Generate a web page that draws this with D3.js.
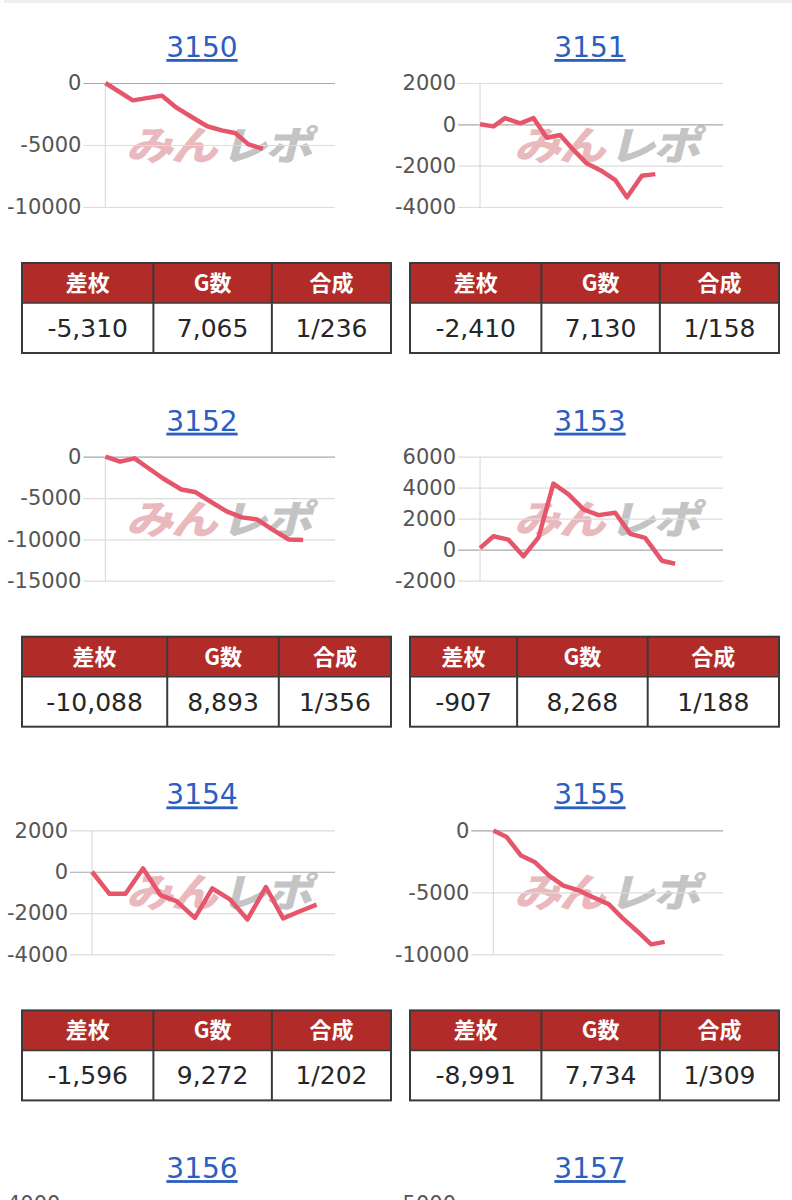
<!DOCTYPE html>
<html><head><meta charset="utf-8">
<script src="https://cdn.jsdelivr.net/npm/d3@7"></script>
<style>
html,body{margin:0;padding:0;background:#fff;}
svg{display:block;}
</style></head>
<body>
<svg id="c" width="792" height="1200"></svg>
<script>
// ---- data ----
const machineIds = ["3150","3151","3152","3153","3154","3155","3156","3157"];

const games3150 = [0, 1230, 2540, 3190, 3870, 4570, 5220, 5820, 6420, 7065];
const diff3150  = [0, -1400, -1020, -1990, -2740, -3490, -3820, -4030, -4950, -5310];

const games3151 = [0, 570, 1060, 1700, 2270, 2830, 3400, 3970, 4530, 5100, 5740, 6230, 6860, 7430];
const diff3151  = [0, -100, 300, 50, 300, -650, -520, -1250, -1900, -2220, -2700, -3530, -2490, -2410];

const games3152 = [0, 660, 1310, 1840, 2590, 3410, 4020, 4690, 5440, 6120, 6800, 7550, 8230, 8870];
const diff3152  = [0, -600, -200, -1220, -2640, -3970, -4260, -5390, -6610, -7340, -7580, -8920, -10020, -10088];

const games3153 = [0, 570, 1200, 1840, 2480, 3110, 3750, 4390, 5020, 5730, 6370, 7000, 7710, 8270];
const diff3153  = [100, 870, 650, -430, 800, 4260, 3570, 2600, 2230, 2380, 1020, 760, -710, -907];

const games3154 = [0, 740, 1420, 2160, 2900, 3580, 4360, 5100, 5850, 6590, 7370, 8100, 8840, 9520];
const diff3154  = [0, -1070, -1070, 160, -1130, -1420, -2230, -810, -1340, -2310, -740, -2260, -1900, -1596];

const games3155 = [0, 600, 1240, 1870, 2500, 3140, 3790, 4420, 5170, 5770, 6440, 7080, 7680];
const diff3155  = [0, -540, -2030, -2570, -3650, -4460, -4810, -5350, -5950, -7030, -8110, -9190, -8991];

const ticks3150 = [0, -5000, -10000];
const ticks3151 = [2000, 0, -2000, -4000];
const ticks3152 = [0, -5000, -10000, -15000];
const ticks3153 = [6000, 4000, 2000, 0, -2000];
const ticks3154 = [2000, 0, -2000, -4000];
const ticks3155 = [0, -5000, -10000];
const ticks3156 = [4000, 2000, 0];
const ticks3157 = [5000, 0, -5000];

const tableHeaders = ["差枚", "G数", "合成"];
const tableDiff  = ["-5,310", "-2,410", "-10,088", "-907", "-1,596", "-8,991"];
const tableGames = ["7,065", "7,130", "8,893", "8,268", "9,272", "7,734"];
const tableRate  = ["1/236", "1/158", "1/356", "1/188", "1/202", "1/309"];

const seriesGames = [games3150, games3151, games3152, games3153, games3154, games3155, [], []];
const seriesDiff  = [diff3150, diff3151, diff3152, diff3153, diff3154, diff3155, [], []];
const seriesTicks = [ticks3150, ticks3151, ticks3152, ticks3153, ticks3154, ticks3155, ticks3156, ticks3157];

// ---- layout / style ----
const W = 792, H = 1200;
const svg = d3.select("#c");
const NUM_FONT = "'DejaVu Sans', sans-serif";
const CJK_FONT = "'Noto Sans CJK JP', sans-serif";
const ROW_STEP = 373.7;
const COL_BASE = [22, 410];
const LINE_COLOR = "#e5566b";
const HEADER_RED = "#b12c28";
const X_MAX = 10300;

// top shadow strip
svg.append("rect").attr("x", 4).attr("y", 0).attr("width", 788).attr("height", 3).attr("fill", "#efefef");

function measure(text, font, size, weight) {
  const t = svg.append("text").attr("font-family", font).attr("font-size", size)
    .attr("font-weight", weight || "normal").text(text);
  const w = t.node().getComputedTextLength();
  t.remove();
  return w;
}

machineIds.forEach((id, i) => {
  const col = i % 2, row = Math.floor(i / 2);
  const bx = COL_BASE[col], by = row * ROW_STEP;
  const g = svg.append("g");

  // title (link style)
  g.append("text").attr("x", bx + 180).attr("y", by + 57)
    .attr("text-anchor", "middle").attr("font-family", NUM_FONT).attr("font-size", 28)
    .attr("fill", "#2b5fbf").style("text-decoration", "underline").text(id);

  const ticks = seriesTicks[i];
  const labelW = d3.max(ticks, t => measure(String(t), NUM_FONT, 21));
  const chartLeft = bx - 15;
  const labelEnd = chartLeft + labelW;
  const gridStart = labelEnd + 2;
  const axisX = labelEnd + 24;
  const right = bx + 313;
  const top = by + 83, bottom = by + 207;

  const y = d3.scaleLinear().domain([d3.min(ticks), d3.max(ticks)]).range([bottom, top]);
  const x = d3.scaleLinear().domain([0, X_MAX]).range([axisX, right]);

  // only ticks that reach into the visible page
  const shownTicks = ticks.filter(t => y(t) < H + 8);

  // watermark (みんレポ)
  if (by + 120 < H) {
    const wm = g.append("g").attr("transform", `translate(${bx + 104},${by + 160}) skewX(-14) scale(1.18,1)`);
    wm.append("text").attr("x", 0).attr("y", 0).attr("font-family", CJK_FONT).attr("font-weight", 900)
      .attr("font-size", 40).attr("fill", "#eab9bd").attr("letter-spacing", -2).text("みん");
    wm.append("text").attr("x", 80).attr("y", 0).attr("font-family", CJK_FONT).attr("font-weight", 900)
      .attr("font-size", 40).attr("fill", "#c4c4c4").attr("letter-spacing", -2).text("レポ");
  }

  // y axis with gridlines
  const axis = d3.axisLeft(y).tickValues(shownTicks).tickFormat(d => String(d))
    .tickSizeInner(-(right - gridStart)).tickSizeOuter(0).tickPadding(2);
  const ag = g.append("g").attr("transform", `translate(${gridStart},0)`).call(axis);
  ag.select(".domain").remove();
  ag.selectAll(".tick line").attr("stroke", d => d === 0 ? "#a8a8a8" : "#dcdcdc").attr("stroke-width", 1.2);
  ag.selectAll(".tick text").attr("font-family", NUM_FONT).attr("font-size", 21).attr("fill", "#555");

  // vertical axis line
  g.append("line").attr("x1", axisX).attr("x2", axisX)
    .attr("y1", y(d3.max(ticks))).attr("y2", Math.min(y(d3.min(ticks)), H))
    .attr("stroke", "#dcdcdc").attr("stroke-width", 1.2);

  // series line
  const xs = seriesGames[i], vs = seriesDiff[i];
  if (xs.length) {
    const pts = xs.map((gv, k) => [gv, vs[k]]);
    g.append("path").datum(pts)
      .attr("d", d3.line().x(d => x(d[0])).y(d => y(d[1])))
      .attr("fill", "none").attr("stroke", LINE_COLOR).attr("stroke-width", 4.5)
      .attr("stroke-linejoin", "round").attr("stroke-linecap", "butt");
  }

  // summary table
  if (i < tableDiff.length) {
    const tTop = by + 263, hH = 40, dH = 50, tW = 369;
    const vals = [tableDiff[i], tableGames[i], tableRate[i]];
    const contentW = vals.map((v, k) => Math.max(measure(v, NUM_FONT, 25), measure(tableHeaders[k], CJK_FONT, 22, "bold")) + 11);
    const sumW = d3.sum(contentW);
    const widths = contentW.map(w => w / sumW * tW);
    const edges = [bx];
    widths.forEach(w => edges.push(edges[edges.length - 1] + w));

    g.append("rect").attr("x", bx).attr("y", tTop).attr("width", tW).attr("height", hH).attr("fill", HEADER_RED);
    g.append("rect").attr("x", bx).attr("y", tTop + hH).attr("width", tW).attr("height", dH).attr("fill", "#fff");
    tableHeaders.forEach((h, k) => {
      const cx = (edges[k] + edges[k + 1]) / 2;
      g.append("text").attr("x", cx).attr("y", tTop + hH / 2).attr("dy", "0.36em")
        .attr("text-anchor", "middle").attr("font-family", CJK_FONT).attr("font-weight", "bold")
        .attr("font-size", 22).attr("fill", "#fff").text(h);
      g.append("text").attr("x", cx).attr("y", tTop + hH + dH / 2).attr("dy", "0.36em")
        .attr("text-anchor", "middle").attr("font-family", NUM_FONT)
        .attr("font-size", 25).attr("fill", "#262626").text(vals[k]);
    });
    // borders
    g.append("rect").attr("x", bx).attr("y", tTop).attr("width", tW).attr("height", hH + dH)
      .attr("fill", "none").attr("stroke", "#3a3a3a").attr("stroke-width", 2);
    g.append("line").attr("x1", bx).attr("x2", bx + tW).attr("y1", tTop + hH).attr("y2", tTop + hH)
      .attr("stroke", "#3a3a3a").attr("stroke-width", 1.5);
    edges.slice(1, 3).forEach(e => {
      g.append("line").attr("x1", e).attr("x2", e).attr("y1", tTop).attr("y2", tTop + hH + dH)
        .attr("stroke", "#3a3a3a").attr("stroke-width", 2);
    });
  }
});
</script>
</body></html>
